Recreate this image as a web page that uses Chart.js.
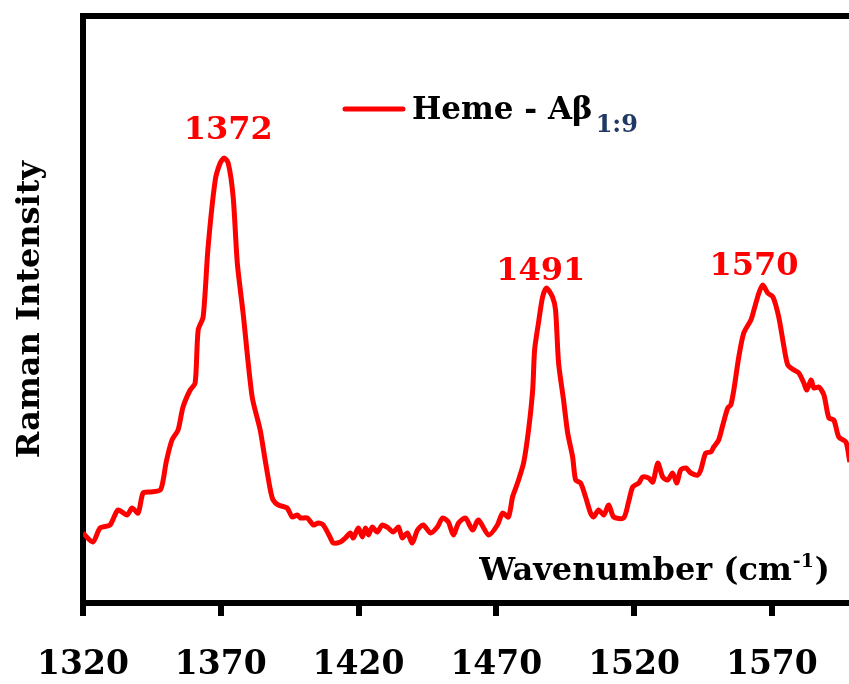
<!DOCTYPE html>
<html>
<head>
<meta charset="utf-8">
<script src="https://cdn.jsdelivr.net/npm/chart.js@4.4.1/dist/chart.umd.min.js"></script>
<style>
  html, body { margin: 0; padding: 0; background: #fff; overflow: hidden; }
  #wrap { position: relative; width: 849px; height: 684px; }
</style>
</head>
<body>
<div id="wrap"><canvas id="c" width="849" height="684"></canvas></div>
<script>
// ---- data ----
const seriesName = 'Heme - A\u03B2';
const seriesSub = '1:9';
const wavenumbers = [
  1320.0, 1323.6, 1326.2, 1329.8, 1332.7, 1336.0, 1337.8, 1340.0, 1341.8, 1344.3,
  1348.0, 1349.1, 1350.2, 1352.3, 1354.5, 1356.3, 1358.9, 1360.7, 1361.8, 1363.6,
  1365.4, 1368.0, 1369.8, 1371.2, 1372.7, 1374.5, 1376.0, 1378.1, 1381.4, 1384.3,
  1386.1, 1388.0, 1389.0, 1390.9, 1394.1, 1395.9, 1397.8, 1398.9, 1401.4, 1403.6,
  1405.4, 1407.2, 1409.8, 1410.8, 1413.4, 1415.2, 1417.0, 1418.1, 1419.9, 1421.4,
  1422.5, 1423.6, 1425.0, 1426.8, 1428.6, 1430.8, 1432.6, 1434.5, 1435.9, 1437.7,
  1439.5, 1441.4, 1443.5, 1446.1, 1448.6, 1450.5, 1452.6, 1454.4, 1456.3, 1458.8,
  1461.4, 1463.5, 1467.2, 1470.4, 1472.3, 1474.4, 1475.9, 1477.7, 1479.9, 1481.7,
  1483.2, 1483.9, 1485.3, 1486.8, 1488.2, 1490.4, 1491.5, 1492.6, 1494.4, 1495.9,
  1497.7, 1498.8, 1500.6, 1502.4, 1504.2, 1505.3, 1507.1, 1509.0, 1510.8, 1512.6,
  1516.2, 1518.0, 1519.5, 1521.7, 1523.1, 1525.3, 1526.8, 1528.6, 1530.4, 1532.2,
  1534.0, 1535.5, 1536.9, 1538.8, 1540.6, 1543.1, 1544.2, 1546.0, 1547.8, 1548.9,
  1550.7, 1552.2, 1554.0, 1555.1, 1556.2, 1558.0, 1559.8, 1562.4, 1563.5, 1565.3,
  1566.7, 1568.5, 1570.4, 1572.5, 1574.4, 1575.8, 1578.0, 1579.8, 1581.6, 1582.7,
  1584.2, 1585.3, 1587.1, 1588.9, 1590.7, 1592.5, 1594.3, 1596.9, 1598.3, 1599.4
];
const intensities = [
   70,  61,  75,  78,  93,  88,  95,  90, 110, 111,
  113, 123, 141, 163, 173, 196, 213, 220, 273, 286,
  356, 423, 440, 445, 440, 406, 340, 290, 206, 173,
  143, 113, 103,  98,  95,  86,  88,  85,  85,  78,
   80,  78,  65,  60,  61,  65,  70,  65,  75,  66,
   75,  68,  76,  71,  78,  75,  71,  76,  65,  70,
   60,  73,  78,  70,  76,  85,  81,  68,  80,  85,
   73,  83,  68,  78,  90,  86, 106, 120, 140, 173,
  213, 253, 280, 306, 315, 306, 293, 240, 203, 170,
  146, 123, 120, 106,  90,  86,  93,  88,  98,  86,
   85, 101, 116, 120, 126, 125, 121, 140, 126, 123,
  130, 120, 133, 135, 130, 128, 133, 150, 151, 156,
  163, 178, 195, 198, 213, 246, 270, 283, 293, 310,
  318, 310, 306, 286, 256, 238, 233, 230, 220, 213,
  223, 215, 216, 208, 185, 183, 166, 161, 141, 133
];
const tickValues = [1320, 1370, 1420, 1470, 1520, 1570];
const peakLabels = ['1372', '1491', '1570'];
const peakLabelX = [1372.7, 1486.1, 1563.5];   // label centre, in cm-1
const peakLabelY = [464, 323, 328];            // label baseline, in intensity units
const xTitle = 'Wavenumber (cm';
const xTitleSup = '-1';
const yTitle = 'Raman Intensity';

const FONT = "'DejaVu Serif', 'Liberation Serif', serif";
const RED = '#ff0000';

const points = wavenumbers.map((w, i) => ({ x: w, y: intensities[i] }));

const overlay = {
  id: 'overlay',
  afterDraw(chart) {
    const { ctx, chartArea: ca, scales } = chart;
    ctx.save();
    // top frame line
    ctx.strokeStyle = '#000';
    ctx.lineWidth = 6;
    ctx.beginPath();
    ctx.moveTo(ca.left - 3, ca.top);
    ctx.lineTo(chart.width, ca.top);
    ctx.stroke();

    // peak labels
    ctx.fillStyle = RED;
    ctx.font = 'bold 32px ' + FONT;
    ctx.textAlign = 'center';
    ctx.textBaseline = 'alphabetic';
    peakLabels.forEach((t, i) => {
      ctx.fillText(t, scales.x.getPixelForValue(peakLabelX[i]), scales.y.getPixelForValue(peakLabelY[i]));
    });

    // x title inside the plot, bottom right
    ctx.fillStyle = '#000';
    ctx.textAlign = 'left';
    const mainF = 'bold 32px ' + FONT;
    const supF = 'bold 19px ' + FONT;
    ctx.font = mainF;
    const w1 = ctx.measureText(xTitle).width;
    ctx.font = supF;
    const w2 = ctx.measureText(xTitleSup).width;
    ctx.font = mainF;
    const w3 = ctx.measureText(')').width;
    const right = ca.right - 19;
    const base = ca.bottom - 23;
    let x0 = right - (w1 + w2 + w3 + 2);
    ctx.fillText(xTitle, x0, base);
    ctx.font = supF;
    ctx.fillText(xTitleSup, x0 + w1 + 1, base - 13);
    ctx.font = mainF;
    ctx.fillText(')', x0 + w1 + w2 + 2, base);

    // legend
    const ly = ca.top + 93;
    const lx = ca.left + 262;
    ctx.strokeStyle = RED;
    ctx.lineWidth = 5;
    ctx.lineCap = 'round';
    ctx.beginPath();
    ctx.moveTo(lx, ly);
    ctx.lineTo(lx + 58, ly);
    ctx.stroke();
    ctx.font = 'bold 31px ' + FONT;
    ctx.fillStyle = '#000';
    ctx.fillText(seriesName, lx + 67, ly + 10);
    const wn = ctx.measureText(seriesName).width;
    ctx.font = 'bold 24px ' + FONT;
    ctx.fillStyle = '#1f3864';
    ctx.fillText(seriesSub, lx + 67 + wn + 3, ly + 23);
    ctx.restore();
  }
};

new Chart(document.getElementById('c'), {
  type: 'line',
  data: {
    datasets: [{
      label: seriesName + seriesSub,
      data: points,
      borderColor: RED,
      borderWidth: 5,
      pointRadius: 0,
      tension: 0.25,
      fill: false
    }]
  },
  options: {
    responsive: false,
    animation: false,
    events: [],
    layout: { padding: { top: 16, right: 0, left: 0, bottom: 0 } },
    plugins: { legend: { display: false }, tooltip: { enabled: false } },
    scales: {
      x: {
        type: 'linear',
        min: 1320,
        max: 1598,
        afterBuildTicks: (s) => { s.ticks = tickValues.map(v => ({ value: v })); },
        afterFit: (s) => { s.height = 81; },
        border: { display: true, color: '#000', width: 6 },
        grid: { display: true, drawOnChartArea: false, drawTicks: true, tickLength: 13, tickWidth: 6, tickColor: '#000', lineWidth: 6, color: '#000' },
        ticks: {
          padding: 30,
          maxRotation: 0,
          autoSkip: false,
          color: '#000',
          font: { family: FONT, size: 33, weight: 'bold' },
          callback: (v) => String(v)
        }
      },
      y: {
        min: 0,
        max: 587,
        afterFit: (s) => { s.width = 83; },
        border: { display: true, color: '#000', width: 6 },
        grid: { display: false },
        ticks: { display: false },
        title: {
          display: true,
          text: yTitle,
          color: '#000',
          padding: { top: 11, bottom: 0 },
          font: { family: FONT, size: 32, weight: 'bold' }
        }
      }
    }
  },
  plugins: [overlay]
});
</script>
</body>
</html>
